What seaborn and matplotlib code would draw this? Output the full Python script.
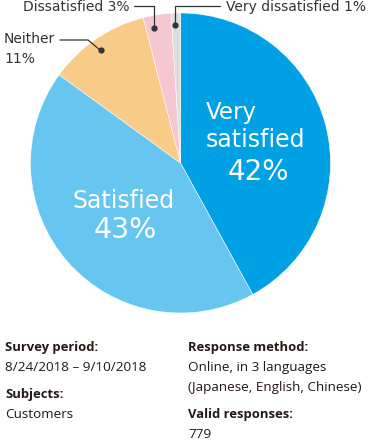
import numpy as np
import matplotlib
matplotlib.use("Agg")
import matplotlib.pyplot as plt
import seaborn as sns

# ---- data ----
categories = ["Very satisfied", "Satisfied", "Neither", "Dissatisfied", "Very dissatisfied"]
shares = [42, 43, 11, 3, 1]
colors = ["#00a0e4", "#67c6f0", "#f8cb89", "#f5c7d1", "#dcdddd"]

info_left = [("Survey period:", True), ("8/24/2018 \u2013 9/10/2018", False),
             ("Subjects:", True), ("Customers", False)]
info_right = [("Response method:", True), ("Online, in 3 languages", False),
              ("(Japanese, English, Chinese)", False),
              ("Valid responses:", True), ("779", False)]

sns.set_theme(style="white")
plt.rcParams["font.family"] = ["DejaVu Sans"]

W, H = 370, 443
fig = plt.figure(figsize=(W / 100, H / 100), dpi=100)
fig.patch.set_facecolor("white")

cx, cy, R = 180.5, 163, 150
ax = fig.add_axes([(cx - R) / W, (H - cy - R) / H, 2 * R / W, 2 * R / H])
wedges, _ = ax.pie(shares, colors=colors, startangle=90, counterclock=False,
                   wedgeprops=dict(linewidth=0.35, edgecolor="white"))
ax.set_xlim(-1, 1)
ax.set_ylim(-1, 1)
ax.set_aspect("equal")
ax.axis("off")


def px(x, y):
    """pixel -> data coords of the pie axes"""
    return ((x - cx) / R, (cy - y) / R)


# in-slice labels
white = "white"
ax.text(*px(206, 119), "Very", color=white, fontsize=16.5, ha="left", va="baseline")
ax.text(*px(206, 147), "satisfied", color=white, fontsize=17, ha="left", va="baseline")
ax.text(*px(258, 180), f"{shares[0]}%", color=white, fontsize=20, ha="center", va="baseline")
ax.text(*px(124, 208), categories[1], color=white, fontsize=17, ha="center", va="baseline")
ax.text(*px(125, 238), f"{shares[1]}%", color=white, fontsize=20.5, ha="center", va="baseline")

# callouts
line_c = "#333333"
cfs = 10


def dot_at(w, frac=0.5, r=0.92):
    ang = np.deg2rad(w.theta1 + frac * (w.theta2 - w.theta1))
    return r * np.cos(ang), r * np.sin(ang)


# Neither
d = dot_at(wedges[2], 0.53)
p1 = px(88, 40)
p0 = px(60, 40)
ax.plot([p0[0], p1[0], d[0]], [p0[1], p1[1], d[1]], color=line_c, lw=0.9, clip_on=False)
ax.plot(*d, "o", color=line_c, ms=3.5, clip_on=False)
ax.text(*px(4, 43), categories[2], color=line_c, fontsize=cfs, ha="left", va="baseline")
ax.text(*px(4, 63), f"{shares[2]}%", color=line_c, fontsize=cfs, ha="left", va="baseline")

# Dissatisfied
d = dot_at(wedges[3], 0.68)
p0 = px(134, 6)
ax.plot([p0[0], d[0], d[0]], [p0[1], p0[1], d[1]], color=line_c, lw=0.9, clip_on=False)
ax.plot(*d, "o", color=line_c, ms=3.5, clip_on=False)
ax.text(*px(129, 11), f"{categories[3]} {shares[3]}%", color=line_c, fontsize=cfs,
        ha="right", va="baseline")

# Very dissatisfied
d = dot_at(wedges[4], 0.6)
p0 = px(220, 6)
ax.plot([p0[0], d[0], d[0]], [p0[1], p0[1], d[1]], color=line_c, lw=0.9, clip_on=False)
ax.plot(*d, "o", color=line_c, ms=3.5, clip_on=False)
ax.text(*px(226, 11), f"{categories[4]} {shares[4]}%", color=line_c, fontsize=cfs,
        ha="left", va="baseline")

# info block
info_font = ["Open Sans", "DejaVu Sans"]
left_y = [351, 371, 398, 418]
right_y = [351, 371, 391, 418, 438]
for (t, b), y in zip(info_left, left_y):
    fig.text(5 / W, 1 - y / H, t, fontsize=9.4 if b else 9.7, family=info_font,
             fontweight="bold" if b else "normal", color="#231815", va="baseline")
for (t, b), y in zip(info_right, right_y):
    fig.text(188 / W, 1 - y / H, t, fontsize=9.4 if b else 9.7, family=info_font,
             fontweight="bold" if b else "normal", color="#231815", va="baseline")

fig.savefig("out.png", dpi=100, facecolor="white")
